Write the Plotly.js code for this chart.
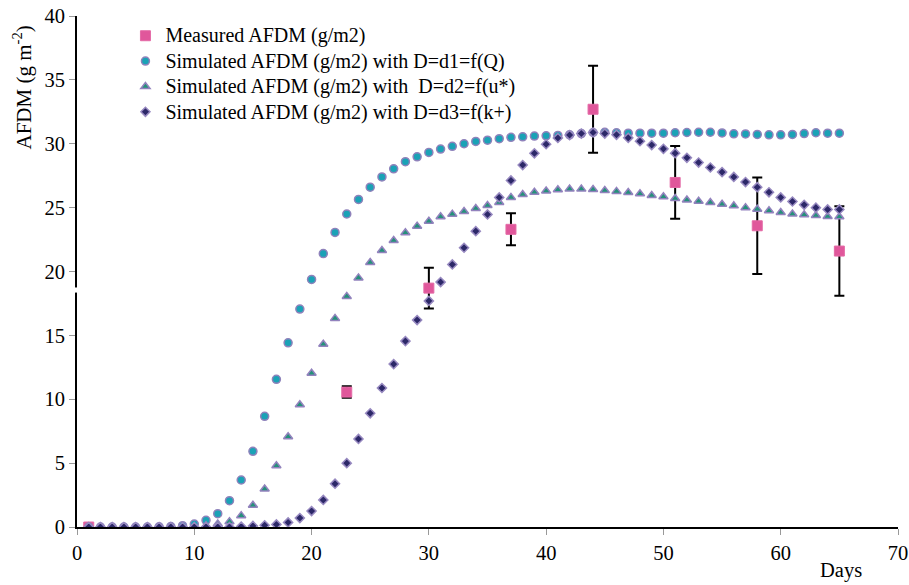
<!DOCTYPE html>
<html>
<head>
<meta charset="utf-8">
<script src="https://cdn.plot.ly/plotly-3.0.1.min.js"></script>
<style>html,body{margin:0;padding:0;background:#fff;}#chart{width:909px;height:585px;}</style>
</head>
<body>
<div id="chart"></div>
<script>
const days = [1,2,3,4,5,6,7,8,9,10,11,12,13,14,15,16,17,18,19,20,21,22,23,24,25,26,27,28,29,30,31,32,33,34,35,36,37,38,39,40,41,42,43,44,45,46,47,48,49,50,51,52,53,54,55,56,57,58,59,60,61,62,63,64,65];

const simD1 = [0,0,0,0,0,0,0.01,0.03,0.1,0.23,0.52,1.04,2.06,3.68,5.92,8.66,11.56,14.42,17.06,19.38,21.4,23.06,24.5,25.64,26.6,27.4,28.04,28.6,28.98,29.32,29.58,29.8,30.0,30.18,30.28,30.4,30.5,30.54,30.6,30.62,30.65,30.7,30.8,30.88,30.9,30.86,30.83,30.83,30.83,30.83,30.86,30.88,30.9,30.9,30.85,30.78,30.77,30.73,30.7,30.7,30.73,30.8,30.86,30.83,30.83];

const simD2 = [0,0,0,0,0,0,0,0,0.01,0.03,0.1,0.23,0.42,0.89,1.7,2.97,4.8,7.07,9.57,12.03,14.3,16.33,18.05,19.5,20.7,21.65,22.43,23.03,23.55,23.94,24.28,24.49,24.7,24.93,25.17,25.4,25.8,26.03,26.2,26.3,26.4,26.45,26.45,26.42,26.34,26.27,26.19,26.08,25.95,25.85,25.72,25.6,25.5,25.4,25.27,25.14,25.0,24.88,24.75,24.62,24.5,24.44,24.39,24.31,24.28];

const simD3 = [0,0,0,0,0,0,0,0,0,0,0,0,0,0.03,0.08,0.13,0.2,0.36,0.7,1.25,2.12,3.39,5.0,6.89,8.9,10.88,12.75,14.55,16.2,17.7,19.17,20.55,21.86,23.16,24.47,25.8,27.13,28.33,29.25,29.96,30.45,30.68,30.8,30.88,30.8,30.7,30.46,30.2,29.9,29.6,29.26,28.9,28.53,28.14,27.78,27.4,27.0,26.6,26.2,25.8,25.48,25.22,25.0,24.86,24.86];

const measDays = [1,23,30,37,44,51,58,65];
const measured = [0,10.56,18.7,23.3,32.7,26.97,23.58,21.6];
const measErr = [0,0.45,1.6,1.25,3.4,2.85,3.77,3.5];

const names = [
  'Measured AFDM (g/m2)',
  'Simulated AFDM (g/m2) with D=d1=f(Q)',
  'Simulated AFDM (g/m2) with&nbsp; D=d2=f(u*)',
  'Simulated AFDM (g/m2) with D=d3=f(k+)'
];

const xTicks = [0,10,20,30,40,50,60,70];
const yTicks = [0,5,10,15,20,25,30,35,40];

const serif = 'Liberation Serif, Times New Roman, serif';
const lav = '#8f82bb';
const legName = n => '<span style="font-size:20px">' + n + '</span>';

const traces = [
  {x: measDays, y: measured, name: legName(names[0]), type: 'scatter', mode: 'markers',
   marker: {symbol: 'square', size: 10, color: '#e0579b', line: {color: '#e46aa6', width: 1}},
   error_y: {type: 'data', array: measErr, visible: true, color: '#000', thickness: 2, width: 5},
   legendgroup: 'a'},
  {x: days, y: simD1, name: legName(names[1]), type: 'scatter', mode: 'markers',
   marker: {symbol: 'circle', size: 8, color: '#1aa2b6', line: {color: lav, width: 1.5}},
   legendgroup: 'b'},
  {x: days, y: simD2, name: legName(names[2]), type: 'scatter', mode: 'markers',
   marker: {symbol: 'triangle-up', size: 8, color: '#24917a', line: {color: '#9282bd', width: 1.5}},
   legendgroup: 'c'},
  {x: days, y: simD3, name: legName(names[3]), type: 'scatter', mode: 'markers',
   marker: {symbol: 'diamond', size: 7, color: '#2c2868', line: {color: '#9789c0', width: 1.5}},
   legendgroup: 'd'}
];

const layout = {
  width: 909, height: 585,
  margin: {l: 77, r: 11, t: 16, b: 58},
  paper_bgcolor: '#fff', plot_bgcolor: '#fff',
  font: {family: serif, size: 20, color: '#000'},
  showlegend: true,
  legend: {x: 0.059, y: 0.996, xanchor: 'left', yanchor: 'top', bgcolor: 'rgba(0,0,0,0)',
           font: {family: serif, size: 17.2, color: '#000'}, tracegroupgap: 0, itemsizing: 'trace'},
  xaxis: {range: [0, 70], tickvals: xTicks, ticktext: xTicks.map(String), ticks: 'outside', ticklen: 6,
          tickcolor: '#999', tickwidth: 1, showline: true, linecolor: '#000', linewidth: 2,
          showgrid: false, zeroline: false, tickfont: {family: serif, size: 20.5, color: '#000'}},
  yaxis: {range: [0, 40], tickvals: yTicks, ticktext: yTicks.map(String), ticks: 'outside', ticklen: 6,
          tickcolor: '#999', tickwidth: 1, showline: true, linecolor: '#000', linewidth: 2,
          showgrid: false, zeroline: false, tickfont: {family: serif, size: 20.5, color: '#000'}},
  annotations: [
    {text: 'AFDM (g m<sup>-2</sup>)', xref: 'paper', yref: 'paper', x: -0.0664, y: 0.861,
     textangle: -90, showarrow: false, xanchor: 'center', yanchor: 'middle',
     font: {family: serif, size: 21, color: '#000'}},
    {text: 'Days', xref: 'paper', yref: 'paper', x: 0.93, y: -0.086, showarrow: false,
     xanchor: 'center', yanchor: 'middle', font: {family: serif, size: 20.5, color: '#000'}}
  ],
  shapes: [
    {type: 'rect', xref: 'paper', yref: 'y', x0: -0.004, x1: 0.004, y0: 18.35, y1: 18.75,
     fillcolor: '#fff', line: {width: 0}, layer: 'above'}
  ]
};

Plotly.newPlot('chart', traces, layout, {displayModeBar: false, staticPlot: true});
</script>
</body>
</html>
